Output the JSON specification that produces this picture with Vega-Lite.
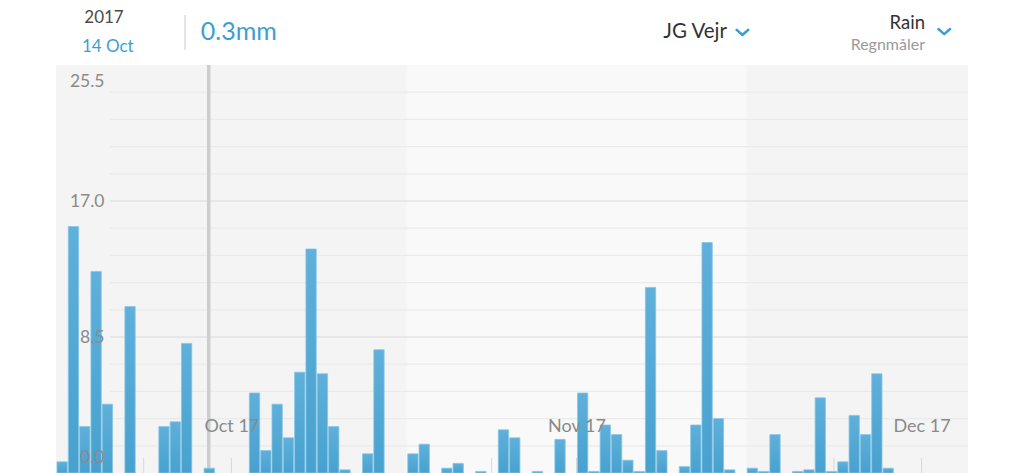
{
  "$schema": "https://vega.github.io/schema/vega-lite/v6.json",
  "width": 912,
  "height": 408,
  "autosize": {"type": "none"},
  "padding": {"left": 56, "top": 65, "right": 56, "bottom": 0},
  "background": "white",
  "config": {"view": {"stroke": null}, "font": "Lato"},
  "resolve": {"axis": {"x": "independent", "y": "independent"}},
  "datasets": {
    "rain": [
      {"date": "2017-10-01", "mm": 0.7},
      {"date": "2017-10-02", "mm": 15.4},
      {"date": "2017-10-03", "mm": 2.9},
      {"date": "2017-10-04", "mm": 12.6},
      {"date": "2017-10-05", "mm": 4.3},
      {"date": "2017-10-07", "mm": 10.4},
      {"date": "2017-10-10", "mm": 2.9},
      {"date": "2017-10-11", "mm": 3.2},
      {"date": "2017-10-12", "mm": 8.1},
      {"date": "2017-10-14", "mm": 0.3},
      {"date": "2017-10-18", "mm": 5.0},
      {"date": "2017-10-19", "mm": 1.4},
      {"date": "2017-10-20", "mm": 4.3},
      {"date": "2017-10-21", "mm": 2.2},
      {"date": "2017-10-22", "mm": 6.3},
      {"date": "2017-10-23", "mm": 14.0},
      {"date": "2017-10-24", "mm": 6.2},
      {"date": "2017-10-25", "mm": 2.9},
      {"date": "2017-10-26", "mm": 0.2},
      {"date": "2017-10-28", "mm": 1.2},
      {"date": "2017-10-29", "mm": 7.7},
      {"date": "2017-11-01", "mm": 1.2},
      {"date": "2017-11-02", "mm": 1.8},
      {"date": "2017-11-04", "mm": 0.3},
      {"date": "2017-11-05", "mm": 0.6},
      {"date": "2017-11-07", "mm": 0.1},
      {"date": "2017-11-09", "mm": 2.7},
      {"date": "2017-11-10", "mm": 2.2},
      {"date": "2017-11-12", "mm": 0.1},
      {"date": "2017-11-14", "mm": 2.1},
      {"date": "2017-11-16", "mm": 5.0},
      {"date": "2017-11-17", "mm": 0.1},
      {"date": "2017-11-18", "mm": 3.0},
      {"date": "2017-11-19", "mm": 2.4},
      {"date": "2017-11-20", "mm": 0.8},
      {"date": "2017-11-21", "mm": 0.1},
      {"date": "2017-11-22", "mm": 11.6},
      {"date": "2017-11-23", "mm": 1.4},
      {"date": "2017-11-25", "mm": 0.4},
      {"date": "2017-11-26", "mm": 3.0},
      {"date": "2017-11-27", "mm": 14.4},
      {"date": "2017-11-28", "mm": 3.4},
      {"date": "2017-11-29", "mm": 0.2},
      {"date": "2017-12-01", "mm": 0.3},
      {"date": "2017-12-02", "mm": 0.1},
      {"date": "2017-12-03", "mm": 2.4},
      {"date": "2017-12-05", "mm": 0.1},
      {"date": "2017-12-06", "mm": 0.2},
      {"date": "2017-12-07", "mm": 4.7},
      {"date": "2017-12-08", "mm": 0.1},
      {"date": "2017-12-09", "mm": 0.7},
      {"date": "2017-12-10", "mm": 3.6},
      {"date": "2017-12-11", "mm": 2.4},
      {"date": "2017-12-12", "mm": 6.2},
      {"date": "2017-12-13", "mm": 0.3}
    ],
    "months": [
      {"month": "Oct", "start": "2017-10-01", "end": "2017-11-01"},
      {"month": "Nov", "start": "2017-11-01", "end": "2017-12-01"},
      {"month": "Dec", "start": "2017-12-01", "end": "2017-12-31"}
    ],
    "grid": [
      {"v": 1.7, "kind": "minor"},
      {"v": 3.4, "kind": "minor"},
      {"v": 5.1, "kind": "minor"},
      {"v": 6.8, "kind": "minor"},
      {"v": 8.5, "kind": "major"},
      {"v": 10.2, "kind": "minor"},
      {"v": 11.9, "kind": "minor"},
      {"v": 13.6, "kind": "minor"},
      {"v": 15.3, "kind": "minor"},
      {"v": 17.0, "kind": "major"},
      {"v": 18.7, "kind": "minor"},
      {"v": 20.4, "kind": "minor"},
      {"v": 22.1, "kind": "minor"},
      {"v": 23.8, "kind": "minor"}
    ],
    "ticks": [
      {"t": "2017-10-08T18:00:00Z"},
      {"t": "2017-10-16T12:00:00Z"},
      {"t": "2017-10-24T06:00:00Z"},
      {"t": "2017-11-08T12:00:00Z"},
      {"t": "2017-11-16T00:00:00Z"},
      {"t": "2017-11-23T12:00:00Z"},
      {"t": "2017-12-08T18:00:00Z"},
      {"t": "2017-12-16T12:00:00Z"}
    ]
  },
  "layer": [
    {
      "data": {"name": "months"},
      "mark": {"type": "rect", "clip": true},
      "encoding": {
        "x": {"field": "start", "type": "temporal", "scale": {"type": "utc", "domain": [{"year": 2017, "month": 10, "date": 1, "utc": true}, {"year": 2017, "month": 12, "date": 20, "hours": 14, "minutes": 24, "utc": true}]}, "axis": null},
        "x2": {"field": "end"},
        "y": {"datum": 0, "type": "quantitative", "scale": {"domain": [0, 25.5], "nice": false, "zero": false}, "axis": null},
        "y2": {"datum": 25.5},
        "color": {"field": "month", "type": "nominal", "scale": {"domain": ["Oct", "Nov", "Dec"], "range": ["#f4f4f4", "#f9f9f9", "#f4f4f4"]}, "legend": null}
      }
    },
    {
      "data": {"name": "grid"},
      "mark": {"type": "rule", "strokeWidth": 1.2},
      "encoding": {
        "x": {"datum": {"year": 2017, "month": 10, "date": 5, "hours": 18, "minutes": 30, "utc": true}, "type": "temporal", "axis": null},
        "x2": {"datum": {"year": 2017, "month": 12, "date": 20, "hours": 14, "minutes": 24, "utc": true}},
        "y": {"field": "v", "type": "quantitative", "axis": null},
        "stroke": {"field": "kind", "type": "nominal", "scale": {"domain": ["major", "minor"], "range": ["#d9d9d9", "#eaeaea"]}, "legend": null}
      }
    },
    {
      "data": {"name": "ticks"},
      "mark": {"type": "rule", "color": "#d8d8d8", "strokeWidth": 1},
      "encoding": {
        "x": {"field": "t", "type": "temporal", "axis": null},
        "y": {"datum": 0, "type": "quantitative", "axis": null},
        "y2": {"datum": 0.94}
      }
    },
    {
      "data": {"values": [{}]},
      "mark": {"type": "rule", "color": "#cdcdcd", "strokeWidth": 3.5},
      "encoding": {
        "x": {"datum": {"year": 2017, "month": 10, "date": 14, "hours": 12, "utc": true}, "type": "temporal", "axis": null},
        "y": {"datum": 0, "type": "quantitative", "axis": null},
        "y2": {"datum": 25.5}
      }
    },
    {
      "data": {"name": "rain"},
      "mark": {
        "type": "bar",
        "fill": {"gradient": "linear", "x1": 0, "y1": 0, "x2": 0, "y2": 1, "stops": [{"offset": 0, "color": "#5fb0da"}, {"offset": 1, "color": "#47a1cf"}]},
        "stroke": "#86c5e5",
        "strokeWidth": 0.8
      },
      "encoding": {
        "x": {
          "field": "date", "timeUnit": "utcyearmonthdate", "type": "temporal",
          "scale": {"type": "utc", "domain": [{"year": 2017, "month": 10, "date": 1, "utc": true}, {"year": 2017, "month": 12, "date": 20, "hours": 14, "minutes": 24, "utc": true}]},
          "axis": {
            "orient": "bottom",
            "values": [
              {"year": 2017, "month": 10, "date": 16, "hours": 12, "utc": true},
              {"year": 2017, "month": 11, "date": 16, "hours": 0, "utc": true},
              {"year": 2017, "month": 12, "date": 16, "hours": 12, "utc": true}
            ],
            "labelExpr": "utcFormat(datum.value, '%b %y')",
            "ticks": false, "tickSize": 0, "domain": false, "grid": false,
            "labelPadding": -42, "labelBaseline": "alphabetic", "labelAlign": "center",
            "labelFontSize": 18, "labelColor": "#8a8a8a", "labelFont": "Lato",
            "labelFlush": false, "labelOverlap": false, "labelBound": false,
            "title": null, "zindex": 1
          }
        },
        "y": {
          "field": "mm", "type": "quantitative",
          "scale": {"domain": [0, 25.5], "nice": false, "zero": false},
          "axis": {
            "values": [0, 8.5, 17, 25.5], "format": ".1f", "orient": "left", "offset": -56,
            "ticks": false, "domain": false, "grid": false, "labelPadding": 8,
            "labelFontSize": 17.5, "labelColor": "#8a8a8a", "labelFont": "Lato",
            "labelFlush": true, "labelFlushOffset": -7, "title": null, "zindex": 1
          }
        }
      }
    },
    {
      "data": {"values": [{}]},
      "mark": {"type": "text", "align": "left", "baseline": "middle", "fontSize": 17, "color": "#4a4a4a", "text": "2017"},
      "encoding": {
        "x": {"datum": {"year": 2017, "month": 10, "date": 3, "hours": 12, "utc": true}, "type": "temporal", "axis": null},
        "y": {"datum": 28.44, "type": "quantitative", "axis": null}
      }
    },
    {
      "data": {"values": [{}]},
      "mark": {"type": "text", "align": "left", "baseline": "middle", "fontSize": 17, "color": "#3d9fd1", "text": "14 Oct"},
      "encoding": {
        "x": {"datum": {"year": 2017, "month": 10, "date": 3, "hours": 7, "utc": true}, "type": "temporal", "axis": null},
        "y": {"datum": 26.64, "type": "quantitative", "axis": null}
      }
    },
    {
      "data": {"values": [{}]},
      "mark": {"type": "rule", "color": "#dcdcdc", "strokeWidth": 1.5},
      "encoding": {
        "x": {"datum": {"year": 2017, "month": 10, "date": 12, "hours": 9, "minutes": 36, "utc": true}, "type": "temporal", "axis": null},
        "y": {"datum": 28.62, "type": "quantitative", "axis": null},
        "y2": {"datum": 26.44}
      }
    },
    {
      "data": {"values": [{}]},
      "mark": {"type": "text", "align": "left", "baseline": "middle", "fontSize": 25, "color": "#3d9fd1", "text": "0.3mm"},
      "encoding": {
        "x": {"datum": {"year": 2017, "month": 10, "date": 13, "hours": 19, "utc": true}, "type": "temporal", "axis": null},
        "y": {"datum": 27.54, "type": "quantitative", "axis": null}
      }
    },
    {
      "data": {"values": [{}]},
      "mark": {"type": "text", "align": "left", "baseline": "middle", "fontSize": 20.5, "color": "#333333", "text": "JG Vejr"},
      "encoding": {
        "x": {"datum": {"year": 2017, "month": 11, "date": 23, "hours": 16, "utc": true}, "type": "temporal", "axis": null},
        "y": {"datum": 27.58, "type": "quantitative", "axis": null}
      }
    },
    {
      "data": {"values": [{}]},
      "mark": {"type": "point", "shape": "M-0.9,-0.35L0,0.45L0.9,-0.35", "filled": false, "stroke": "#3d9fd1", "strokeWidth": 2.5, "size": 169, "opacity": 1, "strokeCap": "round", "strokeJoin": "round"},
      "encoding": {
        "x": {"datum": {"year": 2017, "month": 11, "date": 30, "hours": 16, "utc": true}, "type": "temporal", "axis": null},
        "y": {"datum": 27.56, "type": "quantitative", "axis": null}
      }
    },
    {
      "data": {"values": [{}]},
      "mark": {"type": "text", "align": "right", "baseline": "middle", "fontSize": 18.5, "color": "#333333", "text": "Rain"},
      "encoding": {
        "x": {"datum": {"year": 2017, "month": 12, "date": 16, "hours": 19, "minutes": 12, "utc": true}, "type": "temporal", "axis": null},
        "y": {"datum": 28.14, "type": "quantitative", "axis": null}
      }
    },
    {
      "data": {"values": [{}]},
      "mark": {"type": "text", "align": "right", "baseline": "middle", "fontSize": 16, "color": "#9a9a9a", "text": "Regnmåler"},
      "encoding": {
        "x": {"datum": {"year": 2017, "month": 12, "date": 16, "hours": 19, "minutes": 12, "utc": true}, "type": "temporal", "axis": null},
        "y": {"datum": 26.77, "type": "quantitative", "axis": null}
      }
    },
    {
      "data": {"values": [{}]},
      "mark": {"type": "point", "shape": "M-0.9,-0.35L0,0.45L0.9,-0.35", "filled": false, "stroke": "#3d9fd1", "strokeWidth": 2.5, "size": 169, "opacity": 1, "strokeCap": "round", "strokeJoin": "round"},
      "encoding": {
        "x": {"datum": {"year": 2017, "month": 12, "date": 18, "hours": 12, "utc": true}, "type": "temporal", "axis": null},
        "y": {"datum": 27.61, "type": "quantitative", "axis": null}
      }
    }
  ]
}
